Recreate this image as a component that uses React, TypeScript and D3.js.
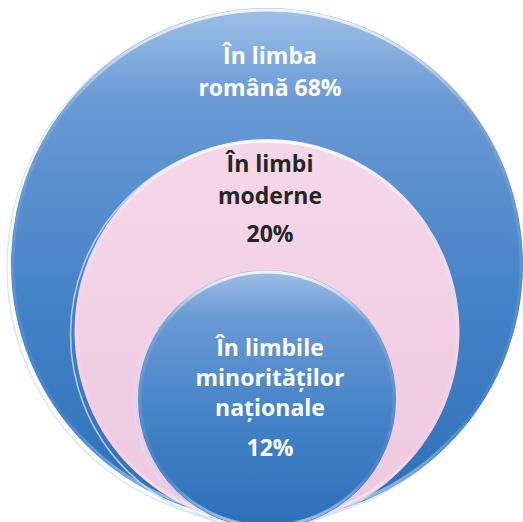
import React, { useRef, useEffect } from "react";
import * as d3 from "d3";

// Nested circles, outermost first
const categories = ["În limba română", "În limbi moderne", "În limbile minorităților naționale"];
const values = [68, 20, 12];
// text lines as they appear inside each circle
const labelLines = [
  ["În limba", "română 68%"],
  ["În limbi", "moderne", "20%"],
  ["În limbile", "minorităților", "naționale", "12%"],
];

export default function NestedCircles() {
  const ref = useRef<SVGSVGElement | null>(null);
  const width = 523, height = 522;

  useEffect(() => {
    const svg = d3.select(ref.current);
    svg.selectAll("*").remove();

    const idx = categories.map((_, i) => i);
    const r = d3.scaleLinear().domain([0, 2]).range([256, 129]);
    const cy = d3.scaleLinear().domain([0, 2]).range([264, 399]);
    const cx = 267;

    const defs = svg.append("defs");
    const blue = defs.append("linearGradient").attr("id", "blueGrad")
      .attr("x1", 0).attr("y1", 0).attr("x2", 0).attr("y2", 1);
    blue.append("stop").attr("offset", "0%").attr("stop-color", "#9ec0e8");
    blue.append("stop").attr("offset", "18%").attr("stop-color", "#6a9ad4");
    blue.append("stop").attr("offset", "55%").attr("stop-color", "#4683c7");
    blue.append("stop").attr("offset", "100%").attr("stop-color", "#2c70b9");
    const pink = defs.append("linearGradient").attr("id", "pinkGrad")
      .attr("x1", 0).attr("y1", 0).attr("x2", 0).attr("y2", 1);
    pink.append("stop").attr("offset", "0%").attr("stop-color", "#f4d8e9");
    pink.append("stop").attr("offset", "100%").attr("stop-color", "#eec8df");
    const rim = defs.append("linearGradient").attr("id", "rimGrad")
      .attr("x1", 0).attr("y1", 0).attr("x2", 0).attr("y2", 1);
    rim.append("stop").attr("offset", "0%").attr("stop-color", "#ffffff").attr("stop-opacity", 0.85);
    rim.append("stop").attr("offset", "20%").attr("stop-color", "#ffffff").attr("stop-opacity", 0.12);
    rim.append("stop").attr("offset", "80%").attr("stop-color", "#ffffff").attr("stop-opacity", 0.08);
    rim.append("stop").attr("offset", "100%").attr("stop-color", "#ffffff").attr("stop-opacity", 0.6);

    const fills = ["url(#blueGrad)", "url(#pinkGrad)", "url(#blueGrad)"];
    const textColors = ["#ffffff", "#262626", "#ffffff"];
    // baseline offsets from each circle's top
    const lineOffsets = [[56, 88], [33, 65, 103], [86, 116, 146, 186]];

    const g = svg.selectAll("g.ring").data(idx).join("g").attr("class", "ring");

    // reflection crescent at lower-left
    g.append("circle")
      .attr("cx", cx - 4)
      .attr("cy", i => cy(i) + 3)
      .attr("r", i => r(i))
      .attr("fill", "none")
      .attr("stroke", "#cfe2f5")
      .attr("stroke-width", 1.5)
      .attr("opacity", 0.8);

    g.append("circle")
      .attr("cx", cx)
      .attr("cy", i => cy(i))
      .attr("r", i => r(i))
      .attr("fill", i => fills[i]);

    g.append("circle")
      .attr("cx", cx)
      .attr("cy", i => cy(i))
      .attr("r", i => r(i) - 2)
      .attr("fill", "none")
      .attr("stroke", "url(#rimGrad)")
      .attr("stroke-width", 3);

    g.each(function (i) {
      const top = cy(i) - r(i);
      d3.select(this).append("text")
        .attr("text-anchor", "middle")
        .attr("font-family", "'Open Sans', sans-serif")
        .attr("font-weight", "bold")
        .attr("font-size", 23)
        .attr("fill", textColors[i])
        .selectAll("tspan")
        .data(labelLines[i])
        .join("tspan")
        .attr("x", cx + 3)
        .attr("y", (_, k) => top + lineOffsets[i][k])
        .text(d => d);
    });
  }, []);

  return (
    <svg ref={ref} width={width} height={height}
      style={{ position: "fixed", left: 0, top: 0, background: "#ffffff" }}
      data-values={values.join(",")} />
  );
}
